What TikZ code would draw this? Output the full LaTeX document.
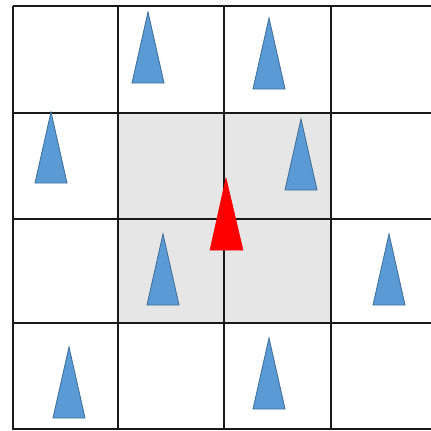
\documentclass[tikz,border=0pt]{standalone}
\usepackage{tikz}
\definecolor{coneblue}{HTML}{5B9BD5}
\definecolor{coneedge}{HTML}{41719C}
\definecolor{cellgrey}{HTML}{E6E6E6}
\tikzset{
 gridline/.style={line width=1.1pt,draw=black!90},
 cone/.style={fill=coneblue,draw=coneedge,line width=0.5pt,line join=miter},
 redcone/.style={fill=red,draw=red,line width=0.3pt}
}

\begin{document}
\begin{tikzpicture}[x=0.02cm,y=-0.02cm]
\useasboundingbox (0,0) rectangle (431,430);
% shaded centre cells
\fill[cellgrey] (119,114) rectangle (330,322);
% grid
\foreach \gx in {13,118,224,331}
 \draw[gridline] (\gx,6) -- (\gx,430);
\foreach \gy in {6,113,219,323,429}
 \draw[gridline] (13,\gy) -- (431,\gy);
% blue cones: base centre x, base y
\foreach \cx/\by in {148/83,269/89,51/183,301/190,163/305,389/305,69/418,269/409}
 \draw[cone] (\cx-16,\by) -- (\cx,\by-71) -- (\cx+16,\by) -- cycle;
% red cone
\draw[redcone] (210,250) -- (226,178) -- (243,250) -- cycle;
\end{tikzpicture}
\end{document}
